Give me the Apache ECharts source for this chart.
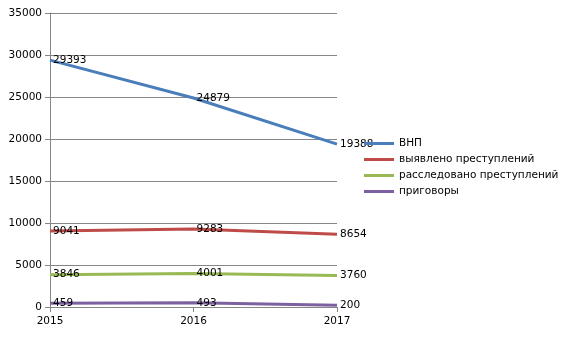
<!DOCTYPE html>
<html><head><meta charset="utf-8">
<script src="https://cdn.jsdelivr.net/npm/echarts@6/dist/echarts.min.js"></script>
<style>html,body{margin:0;padding:0;background:#fff}#c{width:568px;height:342px}</style>
</head><body><div id="c"></div>
<script>
const years = ['2015', '2016', '2017'];
const vnp = [29393, 24879, 19388];
const detected = [9041, 9283, 8654];
const investigated = [3846, 4001, 3760];
const sentences = [459, 493, 200];
const seriesNames = ['ВНП', 'выявлено преступлений', 'расследовано преступлений', 'приговоры'];
const colors = ['#4a7ebb', '#be4b48', '#98b954', '#7d60a0'];
const FONT = 'DejaVu Sans';
const FS = 10.5;
const chart = echarts.init(document.getElementById('c'), null, {renderer: 'canvas'});
const data = [vnp, detected, investigated, sentences];
chart.setOption({
  animation: false,
  textStyle: {fontFamily: FONT},
  grid: {left: 50, right: 231, top: 13, bottom: 35, containLabel: false},
  legend: {
    orient: 'vertical', left: 364, top: 138, padding: 0, itemWidth: 30, itemHeight: 3, itemGap: 5,
    icon: 'rect',
    textStyle: {fontFamily: FONT, fontSize: FS, color: '#000', lineHeight: 11},
    data: seriesNames.map((n, i) => ({name: n, itemStyle: {color: colors[i], opacity: 1}}))
  },
  xAxis: {
    type: 'category', data: years, boundaryGap: false,
    axisLine: {lineStyle: {color: '#868686', width: 1}},
    axisTick: {show: true, length: 5, lineStyle: {color: '#868686'}},
    axisLabel: {color: '#000', fontSize: FS, fontFamily: FONT, margin: 9}
  },
  yAxis: {
    type: 'value', min: 0, max: 35000, interval: 5000,
    axisLine: {show: true, lineStyle: {color: '#868686', width: 1}},
    axisTick: {show: true, length: 5, lineStyle: {color: '#868686'}},
    splitLine: {lineStyle: {color: '#868686', width: 1}},
    axisLabel: {color: '#000', fontSize: FS, fontFamily: FONT, margin: 8, formatter: v => String(v)}
  },
  series: data.map((d, i) => ({
    name: seriesNames[i], type: 'line', data: d,
    symbol: 'circle', symbolSize: 0.1, showSymbol: true,
    itemStyle: {color: colors[i], opacity: 0},
    lineStyle: {color: colors[i], width: 3},
    label: {show: true, position: 'right', distance: 3, color: '#000', fontSize: FS, fontFamily: FONT, opacity: 1}
  }))
});
</script></body></html>
